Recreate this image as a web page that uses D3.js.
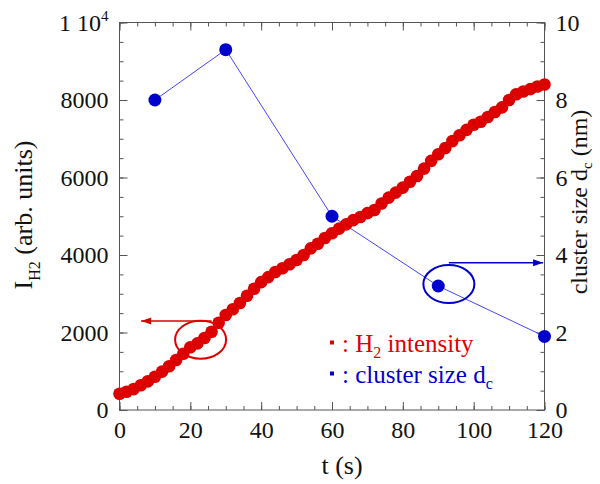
<!DOCTYPE html>
<html>
<head>
<meta charset="utf-8">
<script src="https://cdn.jsdelivr.net/npm/d3@7"></script>
<style>
body { margin: 0; background: #fff; }
text, tspan { font-family: "Liberation Serif"; }
</style>
</head>
<body>
<div id="chart"></div>
<script>
// H2 intensity, one reading every 2 s
const h2Time = [0, 2, 4, 6, 8, 10, 12, 14, 16, 18, 20, 22, 24, 26, 28, 30, 32, 34, 36, 38,
    40, 42, 44, 46, 48, 50, 52, 54, 56, 58, 60, 62, 64, 66, 68, 70, 72, 74, 76, 78,
    80, 82, 84, 86, 88, 90, 92, 94, 96, 98, 100, 102, 104, 106, 108, 110, 112, 114, 116, 118, 120];
const h2Intensity = [420, 470, 540, 640, 740, 860, 990, 1130, 1290, 1450, 1620, 1720, 1860, 2020, 2250, 2450, 2600, 2760, 2950, 3130,
    3300, 3430, 3560, 3660, 3760, 3870, 4000, 4170, 4290, 4440, 4560, 4680, 4790, 4900, 4980, 5080, 5160, 5330, 5480, 5610,
    5740, 5890, 6040, 6230, 6430, 6600, 6760, 6940, 7090, 7230, 7360, 7440, 7560, 7690, 7810, 8000, 8150, 8220, 8280, 8350, 8400];

// cluster size d_c (nm)
const clusterTime = [10, 30, 60, 90, 120];
const clusterSize = [8.0, 9.3, 5.0, 3.2, 1.9];

// tick labels
const xTicks = [0, 20, 40, 60, 80, 100, 120];
const yLeftTicks = [0, 2000, 4000, 6000, 8000, 10000];
const yRightTicks = [0, 2, 4, 6, 8, 10];

// SVG setup
let svgWidth = 600;
let svgHeight = 484;
let margin = { top: 22.5, bottom: 74, left: 119.5, right: 55.5 };
let width = svgWidth - margin.left - margin.right;
let height = svgHeight - margin.top - margin.bottom;

const serif = "Liberation Serif";
const axisColor = "#555";
const red = "#dd0000";
const blue = "#0000cc";

let svg = d3.select("#chart")
    .append("svg")
    .attr("width", svgWidth)
    .attr("height", svgHeight)
    .attr("font-family", serif);

let chartGroup = svg.append("g")
    .attr("transform", `translate(${margin.left},${margin.top})`);

// scales
let xScale = d3.scaleLinear().domain([0, 120]).range([0, width]);
let yLeft = d3.scaleLinear().domain([0, 10000]).range([height, 0]);
let yRight = d3.scaleLinear().domain([0, 10]).range([height, 0]);

// helper: draws an axis with inward ticks, no domain line
function addAxis(axis, tx, ty) {
    let g = chartGroup.append("g")
        .attr("transform", `translate(${tx},${ty})`)
        .call(axis);
    g.select(".domain").remove();
    g.selectAll("line").attr("stroke", axisColor);
    g.attr("font-family", serif).attr("font-size", 24);
    g.selectAll("text").attr("fill", "#111");
    return g;
}

// minor ticks
addAxis(d3.axisBottom(xScale).ticks(24).tickSize(-4).tickFormat(""), 0, height);
addAxis(d3.axisTop(xScale).ticks(24).tickSize(-4).tickFormat(""), 0, 0);
addAxis(d3.axisLeft(yLeft).ticks(20).tickSize(-4).tickFormat(""), 0, 0);
addAxis(d3.axisRight(yRight).ticks(20).tickSize(-4).tickFormat(""), width, 0);

// major ticks + labels
addAxis(d3.axisBottom(xScale).tickValues(xTicks).tickSizeInner(-8).tickSizeOuter(0).tickPadding(11).tickFormat(d3.format("d")), 0, height);
addAxis(d3.axisTop(xScale).tickValues(xTicks).tickSizeInner(-8).tickSizeOuter(0).tickFormat(""), 0, 0);
let leftAxis = addAxis(d3.axisLeft(yLeft).tickValues(yLeftTicks).tickSizeInner(-8).tickSizeOuter(0).tickPadding(11).tickFormat(d3.format("d")), 0, 0);
addAxis(d3.axisRight(yRight).tickValues(yRightTicks).tickSizeInner(-8).tickSizeOuter(0).tickPadding(11).tickFormat(d3.format("d")), width, 0);

// 10000 is written as "1 10^4"
leftAxis.selectAll("text")
    .filter(d => d === 10000)
    .text(null)
    .call(t => {
        t.append("tspan").text("1 10");
        t.append("tspan").attr("dy", -10).attr("font-size", 15).text("4");
    });

// frame
chartGroup.append("rect")
    .attr("width", width)
    .attr("height", height)
    .attr("fill", "none")
    .attr("stroke", axisColor)
    .attr("stroke-width", 1);

// cluster size line (behind red points)
let clusterData = clusterTime.map((t, i) => ({ t: t, v: clusterSize[i] }));
chartGroup.append("path")
    .datum(clusterData)
    .attr("fill", "none")
    .attr("stroke", "#3030ff")
    .attr("stroke-width", 0.9)
    .attr("d", d3.line().x(d => xScale(d.t)).y(d => yRight(d.v)));

// H2 intensity points
let h2Data = h2Time.map((t, i) => ({ t: t, v: h2Intensity[i] }));
chartGroup.append("g")
    .selectAll("circle")
    .data(h2Data)
    .enter()
    .append("circle")
    .attr("cx", d => xScale(d.t))
    .attr("cy", d => yLeft(d.v))
    .attr("r", 6.3)
    .attr("fill", red);

// cluster size points
chartGroup.append("g")
    .selectAll("circle")
    .data(clusterData)
    .enter()
    .append("circle")
    .attr("cx", d => xScale(d.t))
    .attr("cy", d => yRight(d.v))
    .attr("r", 6.5)
    .attr("fill", blue);

// annotation: ellipse + arrow pointing to the axis it belongs to
function annotate(color, cx, cy, arrowFrom, arrowTo, arrowY) {
    chartGroup.append("ellipse")
        .attr("cx", cx).attr("cy", cy)
        .attr("rx", 25.5).attr("ry", 19)
        .attr("fill", "none")
        .attr("stroke", color)
        .attr("stroke-width", 2);
    chartGroup.append("line")
        .attr("x1", arrowFrom).attr("x2", arrowTo)
        .attr("y1", arrowY).attr("y2", arrowY)
        .attr("stroke", color)
        .attr("stroke-width", 1.5);
    let dir = arrowTo > arrowFrom ? -1 : 1;
    chartGroup.append("path")
        .attr("d", `M${arrowTo},${arrowY} l${dir * 10},-3.5 l0,7 Z`)
        .attr("fill", color);
}
annotate(red, xScale(22.9), yLeft(1815), xScale(26), xScale(6.1), yLeft(2300));
annotate(blue, xScale(93), yRight(3.25), xScale(93), xScale(119.6), yRight(3.8));

// legend
let legend = chartGroup.append("g").attr("font-size", 25);
let legendRows = [
    { color: red, y: 342.5, main: ": H", sub: "2", tail: " intensity" },
    { color: blue, y: 373.5, main: ": cluster size d", sub: "c", tail: "" }
];
legendRows.forEach(row => {
    legend.append("rect")
        .attr("x", 330 - margin.left)
        .attr("y", row.y - 2 - margin.top)
        .attr("width", 4).attr("height", 4)
        .attr("fill", row.color);
    let t = legend.append("text")
        .attr("x", 342 - margin.left)
        .attr("y", row.y + 9 - margin.top)
        .attr("fill", row.color);
    t.append("tspan").text(row.main);
    t.append("tspan").attr("dy", 6).attr("font-size", 16).text(row.sub);
    if (row.tail) t.append("tspan").attr("dy", -6).text(row.tail);
});

// X axis title
svg.append("text")
    .attr("x", 342)
    .attr("y", 474)
    .attr("text-anchor", "middle")
    .attr("font-size", 26)
    .attr("fill", "#111")
    .text("t (s)");

// left Y axis title
let leftTitle = svg.append("text")
    .attr("transform", "translate(31.5,215) rotate(-90)")
    .attr("text-anchor", "middle")
    .attr("font-size", 26)
    .attr("fill", "#111");
leftTitle.append("tspan").text("I");
leftTitle.append("tspan").attr("dy", 8).attr("font-size", 16).text("H2");
leftTitle.append("tspan").attr("dy", -8).text(" (arb. units)");

// right Y axis title
let rightTitle = svg.append("text")
    .attr("transform", "translate(586.5,202) rotate(-90)")
    .attr("text-anchor", "middle")
    .attr("font-size", 24)
    .attr("fill", "#111");
rightTitle.append("tspan").text("cluster size d");
rightTitle.append("tspan").attr("dy", 5).attr("font-size", 15).text("c");
rightTitle.append("tspan").attr("dy", -5).text(" (nm)");

svg.selectAll("text").attr("font-family", serif);
</script>
</body>
</html>
